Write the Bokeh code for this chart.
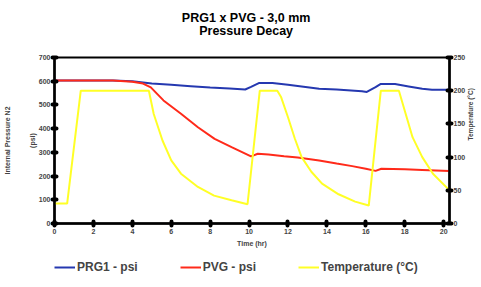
import math
from bokeh.plotting import figure
from bokeh.layouts import column
from bokeh.models import (Range1d, LinearAxis, Legend, LegendItem,
                          FixedTicker)
from bokeh.core.properties import value
from bokeh.embed import file_html
from bokeh.resources import INLINE

# ---- data ----
prg1_t = [0, 3, 4, 5, 6, 7, 8, 9, 9.8, 10.1, 10.5, 11.2, 12, 13, 13.6, 14.5,
          15.8, 16.05, 16.5, 16.75, 17.5, 18.2, 18.9, 19.4, 20.3]
prg1_psi = [603, 603, 600, 590, 585, 579, 573, 569, 565, 576, 592, 592, 585,
            575, 568, 565, 558, 555, 575, 588, 588, 578, 568, 564, 564]

pvg_t = [0, 3, 4, 4.55, 4.95, 5.6, 6.5, 7.37, 8.23, 9.1, 10.1, 10.45, 11.0,
         11.8, 12.5, 13.6, 14.5, 15.3, 16.0, 16.5, 16.8, 18.0, 18.9, 20.3]
pvg_psi = [603, 603, 598, 590, 574, 519, 463, 406, 357, 322, 283, 294, 291,
           284, 278, 266, 253, 242, 231, 222, 231, 229, 226, 221]

temp_t = [0, 0.65, 1.35, 4.85, 5.1, 5.55, 6.0, 6.5, 7.37, 8.2, 9.1, 9.92,
          10.55, 11.45, 11.65, 12.0, 12.35, 12.7, 13.2, 13.75, 14.6, 15.45,
          16.15, 16.77, 17.7, 18.05, 18.4, 18.9, 19.45, 20.3]
temp_c = [30, 30, 200, 200, 165, 125, 95, 75, 55, 42, 35, 29,
          200, 200, 190, 160, 128, 100, 78, 60, 44, 33,
          27, 200, 200, 165, 130, 100, 75, 50]

x_ticks = [0, 2, 4, 6, 8, 10, 12, 14, 16, 18, 20]
left_ticks = [0, 100, 200, 300, 400, 500, 600, 700]
right_ticks = [0, 50, 100, 150, 200, 250]

titles = ["PRG1 x PVG - 3,0 mm", "Pressure Decay"]
names = ["PRG1 - psi", "PVG - psi", "Temperature (°C)"]
colors = ["#2538b0", "#ff2a1a", "#ffff26"]

FONT = "Liberation Sans"
W = 474

x_range = Range1d(0, 20.3)

# ---- title strip (frame aligned with the chart's frame) ----
p0 = figure(width=W, height=40, x_range=x_range, y_range=Range1d(0, 40),
            output_backend="svg", toolbar_location=None,
            x_axis_location=None, y_axis_location=None,
            min_border=0, outline_line_color=None)
p0.xgrid.visible = False
p0.ygrid.visible = False
p0.text(x=[10, 10], y=[23, 10], text=titles,
        text_align="center", text_baseline="middle",
        text_font=value(FONT), text_font_size="12.5px",
        text_font_style="bold", text_color="black")

# ---- main chart ----
p = figure(frame_width=395, frame_height=166,
           x_range=x_range, y_range=Range1d(0, 700),
           output_backend="svg", toolbar_location=None,
           min_border_left=53, min_border_right=25,
           min_border_top=17, min_border_bottom=32,
           background_fill_color="white", border_fill_color="white")
p.extra_y_ranges = {"temp": Range1d(0, 250)}

p.xgrid.visible = False
p.ygrid.visible = False
p.outline_line_color = "black"
p.outline_line_width = 2

def style_axis(ax, ticks):
    ax.ticker = FixedTicker(ticks=ticks)
    ax.axis_line_color = "black"
    ax.axis_line_width = 2.5
    ax.major_tick_line_color = "black"
    ax.major_tick_line_width = 4
    ax.major_tick_line_cap = "round"
    ax.major_tick_in = 2
    ax.major_tick_out = 2
    ax.minor_tick_line_color = None
    ax.major_label_text_font = FONT
    ax.major_label_text_font_size = "7px"
    ax.major_label_text_font_style = "bold"
    ax.major_label_standoff = 3
    ax.axis_label_text_font = FONT
    ax.axis_label_text_font_style = "bold"
    ax.axis_label_text_font_size = "7px"
    ax.axis_label_standoff = 3

style_axis(p.xaxis[0], x_ticks)
p.xaxis[0].axis_label = "Time (hr)"
style_axis(p.yaxis[0], left_ticks)
p.yaxis[0].axis_label = "Internal Pressure N2\n\n\n(psi)"
p.yaxis[0].axis_label_standoff = 0
p.yaxis[0].major_label_standoff = 2

rax = LinearAxis(y_range_name="temp", axis_label="Temperature (°C)")
style_axis(rax, right_ticks)
rax.major_label_standoff = 2
rax.axis_label_standoff = 2
rax.axis_label_text_font_size = "6.5px"
rax.axis_label_orientation = math.pi / 2
p.add_layout(rax, "right")

p.line(prg1_t, prg1_psi, line_color=colors[0], line_width=2)
p.line(pvg_t, pvg_psi, line_color=colors[1], line_width=2)
p.line(temp_t, temp_c, line_color=colors[2], line_width=2,
       y_range_name="temp")

# ---- legend strip (legend proxies sit outside the visible range) ----
p2 = figure(width=W, height=25, x_range=Range1d(0, 1), y_range=Range1d(0, 1),
            output_backend="svg", toolbar_location=None,
            x_axis_location=None, y_axis_location=None,
            min_border=0, outline_line_color=None)
p2.xgrid.visible = False
p2.ygrid.visible = False
items = []
for name, col in zip(names, colors):
    r = p2.line([-10, -9], [-10, -10], line_color=col, line_width=2)
    items.append(LegendItem(label=name, renderers=[r]))
legend = Legend(items=items, orientation="horizontal", location=(0, 6),
                padding=0, margin=0, spacing=42, glyph_width=21,
                glyph_height=12, label_height=12, label_standoff=2,
                label_text_font=FONT, label_text_font_size="12px",
                label_text_font_style="bold",
                border_line_color=None, background_fill_alpha=0)
p2.add_layout(legend, "center")

layout = column(p0, p, p2, spacing=0)
open("out.html", "w").write(file_html(layout, INLINE))
